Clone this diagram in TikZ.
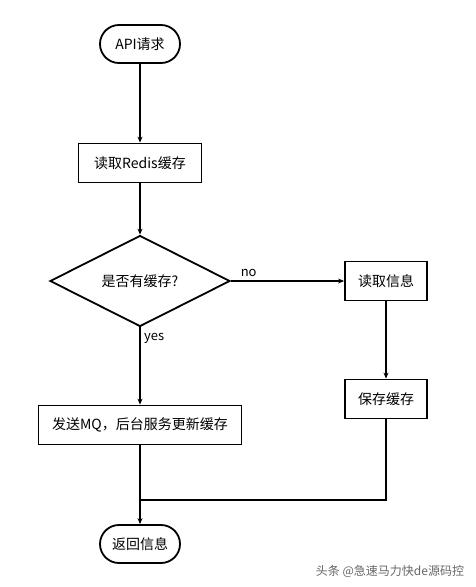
\documentclass[tikz,border=0pt]{standalone}
\usepackage{fontspec}
\setmainfont{Noto Sans CJK SC}
\usepackage{tikz}
\usetikzlibrary{shapes.geometric, arrows.meta, positioning, calc}

\begin{document}
\begin{tikzpicture}[
    x=1pt, y=-1pt,
    terminal/.style={rectangle, draw, line width=1.8pt, rounded corners=19pt, minimum width=80pt, minimum height=38pt, font=\fontsize{14}{17}\selectfont},
    process/.style={rectangle, draw, line width=1.8pt, minimum height=39pt, font=\fontsize{14}{17}\selectfont},
    decision/.style={diamond, draw, line width=1.8pt, aspect=2, minimum width=180pt, minimum height=91pt, inner sep=0pt, font=\fontsize{14}{17}\selectfont},
    flow/.style={line width=1.8pt},
    arrow/.style={flow, -{Stealth[length=6pt, width=5pt]}},
    branch/.style={font=\fontsize{13}{15}\selectfont}
]
\useasboundingbox (0,0) rectangle (476,587);

% Main column
\node[terminal] (api) at (140,44) {API请求};
\node[process, minimum width=123pt] (redis) at (140,163) {读取Redis缓存};
\node[decision] (check) at (140,281) {是否有缓存?};
\node[process, minimum width=203pt] (mq) at (140,425) {发送MQ，后台服务更新缓存};
\node[terminal] (ret) at (140,544) {返回信息};

% Right column
\node[process, minimum width=82pt] (info) at (386,281) {读取信息};
\node[process, minimum width=82pt] (save) at (386,399) {保存缓存};

\coordinate (join) at (140,500);

% Connectors
\draw[arrow] (api) -- (redis);
\draw[arrow] (redis) -- (check);
\draw[arrow] (check.east) -- node[branch, pos=0.05, anchor=south west] {no} (info.west);
\draw[arrow] (check.south) -- node[branch, pos=0.14, anchor=west] {yes} (mq.north);
\draw[arrow] (info) -- (save);
\draw[flow] (save.south) |- (join);
\draw[arrow] (mq) -- (ret);

% Watermark
\node[text=black!60, font=\fontsize{12}{14}\selectfont] (mark) at (390,571) {头条 @急速马力快de源码控};

\end{tikzpicture}
\end{document}
